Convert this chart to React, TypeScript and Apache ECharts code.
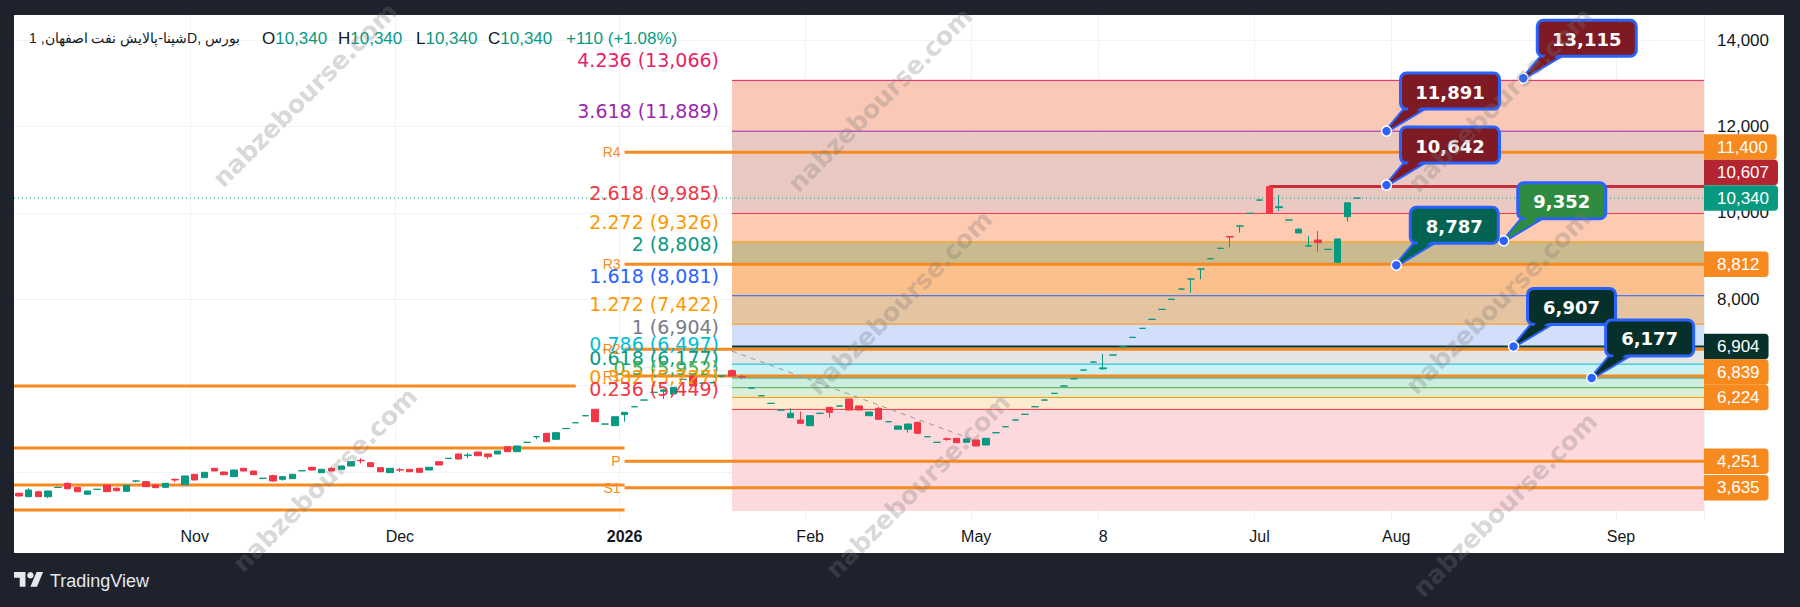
import React, { useEffect, useRef } from 'react';
import * as echarts from 'echarts';

// ---------------- DATA ----------------
const opens = [3507,3429,3544,3429,3640,3738,3646,3484,3598,3699,3623,3553,3790,3776,3699,3646,3830,3706,3947,3869,4086,4000,3892,4086,4023,3853,3915,3831,3845,4028,4109,3984,4086,4062,4139,4270,4215,4100,3984,4050,4062,4086,4046,4238,4315,4417,4380,4463,4417,4417,4586,4470,4686,4816,4896,4757,5004,5139,5302,5452,5109,5072,5327,5510,5665,5843,5870,5806,6144,6224,6058,6065,6222,6346,6210,5942,5764,5588,5433,5257,5204,5072,5357,5497,5526,5690,5528,5304,5474,5163,4990,4990,5150,4816,4686,4770,4780,4688,4741,4625,4908,5047,5202,5334,5510,5665,5820,5989,6158,6359,6544,6390,6707,6898,7116,7324,7533,7764,7996,8234,8466,8697,8936,9176,9450,9693,9986,10294,10605,10120,9831,9533,9232,9370,9153,8853,9910,10340];
const closes = [3445,3583,3429,3560,3646,3613,3544,3560,3600,3544,3567,3692,3792,3660,3637,3738,3815,3908,3815,3993,4023,3938,4046,4023,3938,3855,3792,3892,3947,4030,4046,4062,4023,4139,4238,4261,4123,4007,4086,4046,4007,3993,4109,4162,4317,4301,4394,4377,4354,4486,4470,4602,4688,4818,4701,4910,5006,5141,5304,5165,5111,5280,5382,5512,5667,5845,5900,5961,6146,5991,6060,6067,6224,6222,6199,5944,5766,5590,5435,5359,5127,5304,5359,5382,5528,5435,5435,5389,5220,5165,5065,5111,4896,4818,4688,4757,4678,4764,4602,4780,4910,5049,5204,5336,5512,5667,5822,5991,6160,6361,6546,6410,6709,6900,7118,7326,7535,7766,7998,8236,8468,8699,8938,9178,9440,9695,9988,10296,9988,10140,9833,9620,9234,9310,9155,9394,10230,10340];
const lows = [3430,3414,3425,3398,3630,3600,3530,3478,3590,3540,3550,3548,3760,3655,3630,3640,3760,3700,3810,3865,4018,3932,3888,4018,3932,3840,3770,3800,3840,4025,4040,3980,4015,4058,4135,4200,4118,4002,3980,4000,4002,3988,4042,4158,4312,4296,4320,4372,4300,4412,4465,4466,4682,4760,4696,4752,5000,5136,5298,5160,5105,5068,5165,5506,5662,5840,5690,5800,6140,5986,6054,6060,6180,6218,6150,5938,5760,5584,5430,5250,5120,5068,5354,5257,5522,5430,5430,5300,5215,5160,4986,4910,4891,4812,4682,4720,4673,4684,4597,4620,4904,5043,5198,5330,5506,5661,5816,5985,6154,6355,6540,6361,6703,6894,7112,7320,7529,7760,7992,8230,8150,8460,8932,9172,9200,9540,9982,10290,9984,10040,9828,9528,9228,9100,9150,8848,9795,10340];
const highs = [3520,3623,3550,3565,3660,3760,3655,3566,3606,3705,3650,3698,3805,3782,3705,3742,3850,3915,3952,3998,4092,4005,4050,4095,4028,3858,3940,3896,3950,4034,4114,4066,4120,4143,4243,4320,4220,4105,4090,4090,4066,4090,4113,4242,4320,4421,4440,4468,4422,4490,4590,4606,4692,4822,4900,4914,5010,5145,5308,5456,5115,5284,5386,5516,5671,5849,5920,5965,6150,6228,6064,6071,6226,6380,6250,5948,5770,5594,5439,5474,5397,5308,5363,5501,5532,5694,5532,5393,5510,5169,5069,5115,5154,4822,4692,4800,4784,4768,4745,4784,4914,5053,5208,5340,5516,5671,5826,5995,6164,6365,6550,6732,6713,6904,7122,7330,7539,7770,8002,8240,8470,8702,8942,9182,9452,9698,9992,10300,10607,10412,9837,9650,9460,9580,9159,9398,10235,10340];

const totalSlots = 173;
const timeLabelIndex = [18, 39, 62, 81, 98, 111, 127, 141, 164];
const timeLabelText = ['Nov', 'Dec', '2026', 'Feb', 'May', '8', 'Jul', 'Aug', 'Sep'];
const yTickLabels = [8000, 10000, 12000, 14000];
const yMin = 2889;
const yMax = 14579;

const fibRatios = [4.236, 3.618, 2.618, 2.272, 2, 1.618, 1.272, 1, 0.786, 0.618, 0.5, 0.382, 0.236];
const fibPrices = [13066, 11889, 9985, 9326, 8808, 8081, 7422, 6904, 6497, 6177, 5952, 5727, 5449];
const fibLineColors = ['#e91e63', '#9c27b0', '#f23645', '#ff9800', '#089981', '#2962ff', '#ff9800', '#787b86', '#00bcd4', '#089981', '#4caf50', '#ff9800', '#f23645'];
const fibZoneColors = ['#f9c8b7', '#ebc9c3', '#fdcab2', '#c9ba8f', '#fcc08d', '#e4c4a1', '#d2dffb', '#e4e4e4', '#caf2f5', '#cdeedf', '#daeed7', '#fdebd0', '#fdd9dd'];
const fibBottom = 3096;
const fibStart = 73;

const pivotNames = ['R4', 'R3', 'R2', 'R1', 'P', 'S1'];
const pivotValues = [11400, 8812, 6839, 6224, 4251, 3635];
const pivotStart = 62;
const prevPivotValues = [5991, 4555, 3699, 3120];
const prevPivotEnd = [57, 62, 62, 62];

const lastPrice = 10340;
const resistanceValue = 10607;
const resistanceStart = 128;
const supportValue = 6904;
const trendIndex = [73, 98];
const trendValues = [6800, 4720];

const calloutValues = [13115, 11891, 10642, 9352, 8787, 6907, 6177];
const calloutIndex = [154, 140, 140, 152, 141, 153, 161];
const calloutColors = ['#7d1a24', '#7d1a24', '#7d1a24', '#2e8b3f', '#046352', '#07302a', '#07302a'];

const badgeValues = [11400, 10607, 10340, 8812, 6904, 6839, 6224, 4251, 3635];
const badgeColors = ['#f68a1e', '#b22531', '#089981', '#f68a1e', '#07302a', '#f68a1e', '#f68a1e', '#f68a1e', '#f68a1e'];
const badgePinned = [false, false, true, false, true, false, false, false, false];

// ---------------- HELPERS ----------------
const fmt = (n: number) => n.toLocaleString('en-US');
const UP = '#089981';
const DOWN = '#f23645';
const ORANGE = '#f68a1e';
const AXIS_FONT = '"Liberation Sans", Arial, sans-serif';
const FIB_FONT = '"DejaVu Sans", Verdana, sans-serif';

const hLine = (name: string, data: any[], style: (i: number) => any, z: number) => ({
  type: 'custom',
  name,
  z,
  silent: true,
  encode: { x: 0, y: 1 },
  data,
  renderItem: (params: any, api: any) => {
    const cs = params.coordSys;
    const s = api.value(0);
    const v = api.value(1);
    const e = api.value(2);
    const y = api.coord([0, v])[1];
    const x1 = s < 0 ? cs.x : api.coord([s, v])[0];
    const x2 = e < 0 ? cs.x + cs.width : api.coord([e, v])[0];
    return { type: 'line', shape: { x1, y1: y, x2, y2: y }, style: style(params.dataIndex) };
  },
});

export default function App() {
  const ref = useRef<HTMLDivElement>(null);

  useEffect(() => {
    if (!ref.current) return;
    echarts.graphic.registerShape(
      'tvlogo',
      echarts.graphic.extendPath('M14 22H7V11H0V4h14v18zM28 22h-8l7.5-18h8L28 22z', {}) as any
    );
    const chart = echarts.init(ref.current, undefined, { renderer: 'svg' });

    const categories = Array.from({ length: totalSlots }, (_, i) => String(i));
    const labelMap: Record<number, string> = {};
    timeLabelIndex.forEach((k, i) => (labelMap[k] = timeLabelText[i]));

    const candleData = opens.map((o, i) => [o, closes[i], lows[i], highs[i]]);
    const last = opens.length - 1;
    const change = closes[last] - closes[last - 1];
    const changePct = (change / closes[last - 1]) * 100;

    const zoneData = fibPrices.map((p, i) => [fibStart, p, i < fibPrices.length - 1 ? fibPrices[i + 1] : fibBottom, i]);

    const option: any = {
      animation: false,
      backgroundColor: '#1e222d',
      grid: { left: 14, right: 96, top: 15, bottom: 87, containLabel: false },
      xAxis: {
        type: 'category',
        data: categories,
        boundaryGap: true,
        axisLine: { show: false },
        axisTick: { show: false },
        axisLabel: {
          interval: (i: number) => labelMap[i] !== undefined,
          formatter: (_v: string, i: number) => (labelMap[i] === '2026' ? '{b|2026}' : labelMap[i] || ''),
          color: '#131722',
          fontSize: 16,
          fontFamily: AXIS_FONT,
          margin: 8,
          rich: { b: { fontWeight: 'bold', fontSize: 16, color: '#131722', fontFamily: AXIS_FONT } },
        },
        splitLine: {
          show: true,
          interval: (i: number) => labelMap[i] !== undefined,
          lineStyle: { color: '#f0f3fa', width: 1 },
        },
      },
      yAxis: {
        type: 'value',
        position: 'right',
        min: yMin,
        max: yMax,
        axisLine: { show: false },
        axisTick: { show: false },
        axisLabel: {
          customValues: yTickLabels,
          formatter: (v: number) => fmt(v),
          color: '#131722',
          fontSize: 17,
          fontFamily: AXIS_FONT,
          margin: 13,
        },
        splitLine: { show: true, showMinLine: false, showMaxLine: false, lineStyle: { color: '#f0f3fa' } },
      },
      series: [
        {
          type: 'custom',
          name: 'fibZones',
          z: 1,
          silent: true,
          encode: { x: 0, y: 1 },
          data: zoneData,
          renderItem: (params: any, api: any) => {
            const cs = params.coordSys;
            const a = api.coord([api.value(0), api.value(1)]);
            const b = api.coord([api.value(0), api.value(2)]);
            return {
              type: 'rect',
              shape: { x: a[0], y: a[1], width: cs.x + cs.width - a[0], height: b[1] - a[1] },
              style: { fill: fibZoneColors[api.value(3)] },
            };
          },
        },
        hLine('fibLines', fibPrices.map((p) => [fibStart, p, -1]), (i) => ({ stroke: fibLineColors[i], lineWidth: 1 }), 2),
        hLine('prevPivots', prevPivotValues.map((p, i) => [-1, p, prevPivotEnd[i]]), () => ({ stroke: ORANGE, lineWidth: 3 }), 3),
        hLine('pivots', pivotValues.map((p) => [pivotStart, p, -1]), () => ({ stroke: ORANGE, lineWidth: 3 }), 3),
        hLine('support', [[fibStart, supportValue, -1]], () => ({ stroke: '#0d3530', lineWidth: 2 }), 3),
        hLine('lastPrice', [[-1, lastPrice, -1]], () => ({ stroke: UP, lineWidth: 1, lineDash: [1, 3] }), 4),
        hLine('resistance', [[resistanceStart, resistanceValue, -1]], () => ({ stroke: '#c62f3a', lineWidth: 3 }), 4),
        {
          type: 'line',
          name: 'trend',
          z: 4,
          silent: true,
          symbol: 'none',
          data: trendIndex.map((k, i) => [k, trendValues[i]]),
          lineStyle: { color: '#9598a1', width: 1, type: [5, 5] },
        },
        {
          type: 'candlestick',
          name: 'price',
          z: 5,
          barWidth: 7,
          data: candleData,
          itemStyle: { color: UP, color0: DOWN, borderColor: UP, borderColor0: DOWN, borderWidth: 1 },
        },
        {
          type: 'custom',
          name: 'fibLabels',
          z: 6,
          silent: true,
          encode: { x: 0, y: 1 },
          data: fibPrices.map((p) => [fibStart, p]),
          renderItem: (params: any, api: any) => {
            const i = params.dataIndex;
            const pt = api.coord([api.value(0), api.value(1)]);
            return {
              type: 'text',
              x: pt[0] - 13,
              y: pt[1] - 20,
              style: {
                text: `${fibRatios[i]} (${fmt(fibPrices[i])})`,
                fill: fibLineColors[i],
                fontSize: 19,
                fontFamily: FIB_FONT,
                align: 'right',
                verticalAlign: 'middle',
              },
            };
          },
        },
        {
          type: 'custom',
          name: 'pivotLabels',
          z: 6,
          silent: true,
          encode: { x: 0, y: 1 },
          data: pivotValues.map((p) => [pivotStart, p]),
          renderItem: (params: any, api: any) => {
            const pt = api.coord([api.value(0), api.value(1)]);
            return {
              type: 'text',
              x: pt[0] - 4,
              y: pt[1],
              style: {
                text: pivotNames[params.dataIndex],
                fill: ORANGE,
                fontSize: 14,
                fontFamily: AXIS_FONT,
                align: 'right',
                verticalAlign: 'middle',
              },
            };
          },
        },
        {
          type: 'custom',
          name: 'callouts',
          z: 8,
          silent: true,
          encode: { x: 0, y: 1 },
          data: calloutValues.map((v, i) => [calloutIndex[i], v]),
          renderItem: (params: any, api: any) => {
            const i = params.dataIndex;
            const [ax, ay] = api.coord([api.value(0), api.value(1)]);
            const txt = fmt(calloutValues[i]);
            const w = 11 * txt.length + 33;
            const h = 36;
            const l = ax + 14;
            const t = ay - 58;
            const b = t + h;
            const color = calloutColors[i];
            const mx = l + 16;
            const cx = mx + (ax - mx) * 0.45;
            const cy = b + (ay - b) * 0.45;
            return {
              type: 'group',
              children: [
                { type: 'polyline', shape: { points: [[l + 6, b - 2], [ax, ay], [l + 26, b - 2]] }, style: { stroke: '#2962ff', lineWidth: 4, fill: null, lineJoin: 'round' } },
                { type: 'polygon', shape: { points: [[l + 6, b - 2], [ax, ay], [l + 26, b - 2]] }, style: { fill: color } },
                { type: 'rect', shape: { x: l, y: t, width: w, height: h, r: 6 }, style: { fill: color, stroke: '#2962ff', lineWidth: 3 } },
                { type: 'polygon', shape: { points: [[l + 9, b - 3], [l + 23, b - 3], [cx, cy]] }, style: { fill: color } },
                {
                  type: 'text',
                  x: l + w / 2,
                  y: t + h / 2 + 1,
                  style: { text: txt, fill: '#ffffff', fontSize: 18, fontWeight: 'bold', fontFamily: FIB_FONT, align: 'center', verticalAlign: 'middle' },
                },
                { type: 'circle', shape: { cx: ax, cy: ay, r: 5 }, style: { fill: '#2962ff', stroke: '#ffffff', lineWidth: 1.5 } },
              ],
            };
          },
        },
      ],
    };

    chart.setOption(option);

    // price-axis badges, stacked like the reference
    const ys = badgeValues.map((v) => chart.convertToPixel({ yAxisIndex: 0 } as any, v) as number);
    const order = ys.map((_, i) => i).sort((a, b) => ys[a] - ys[b]);
    const pos = ys.slice();
    const H = 25.5;
    for (let k = 1; k < order.length; k++) {
      const i = order[k];
      const p = order[k - 1];
      if (!badgePinned[i] && pos[i] < pos[p] + H) pos[i] = pos[p] + H;
    }
    for (let k = order.length - 2; k >= 0; k--) {
      const i = order[k];
      const n = order[k + 1];
      if (!badgePinned[i] && pos[i] > pos[n] - H) pos[i] = pos[n] - H;
    }
    const badges = badgeValues.map((v, i) => ({
      type: 'text',
      x: 1704,
      y: pos[i],
      z: 50,
      style: {
        text: fmt(v),
        fill: '#ffffff',
        fontSize: 17,
        fontFamily: AXIS_FONT,
        backgroundColor: badgeColors[i],
        padding: [3, 9, 3, 13],
        lineHeight: 19.5,
        borderRadius: [0, 4, 4, 0],
        align: 'left',
        verticalAlign: 'middle',
      },
    }));

    const watermarkCenters = [
      [305, 95], [325, 480], [880, 100], [900, 303], [918, 486], [1500, 100], [1498, 302], [1505, 505],
    ];
    const watermarks = watermarkCenters.map(([x, y]) => ({
      type: 'text',
      x,
      y,
      rotation: Math.PI / 4,
      z: 90,
      silent: true,
      style: {
        text: 'nabzebourse.com',
        fill: 'rgba(120,120,120,0.3)',
        fontSize: 25,
        fontWeight: 'bold',
        fontFamily: FIB_FONT,
        align: 'center',
        verticalAlign: 'middle',
      },
    }));

    const headerGreen = (label: string, value: string, x: number) => ({
      type: 'text',
      x,
      y: 38,
      z: 60,
      style: {
        text: `{k|${label}}{g|${value}}`,
        verticalAlign: 'middle',
        rich: {
          k: { fill: '#131722', color: '#131722', fontSize: 17, fontFamily: AXIS_FONT },
          g: { fill: UP, color: UP, fontSize: 17, fontFamily: AXIS_FONT },
        },
      },
    });

    chart.setOption({
      graphic: [
        { type: 'rect', z: -10, silent: true, shape: { x: 14, y: 15, width: 1770, height: 538 }, style: { fill: '#ffffff' } },
        ...badges,
        {
          type: 'text',
          x: 29,
          y: 38,
          z: 60,
          style: { text: 'شپنا-پالایش نفت اصفهان, 1D, بورس', fill: '#131722', fontSize: 14, fontFamily: AXIS_FONT, verticalAlign: 'middle' },
        },
        headerGreen('O', fmt(opens[last]), 262),
        headerGreen('H', fmt(highs[last]), 338),
        headerGreen('L', fmt(lows[last]), 416),
        headerGreen('C', fmt(closes[last]), 488),
        {
          type: 'text',
          x: 566,
          y: 38,
          z: 60,
          style: {
            text: `${change >= 0 ? '+' : ''}${fmt(change)} (${change >= 0 ? '+' : ''}${changePct.toFixed(2)}%)`,
            fill: UP,
            fontSize: 17,
            fontFamily: AXIS_FONT,
            verticalAlign: 'middle',
          },
        },
        { type: 'tvlogo', x: 14, y: 568.7, scaleX: 0.82, scaleY: 0.82, z: 60, style: { fill: '#e6e8ee' } },
        { type: 'circle', z: 60, shape: { cx: 14 + 20 * 0.82, cy: 568.7 + 8 * 0.82, r: 4 * 0.82 }, style: { fill: '#e6e8ee' } },
        {
          type: 'text',
          x: 50,
          y: 581,
          z: 60,
          style: { text: 'TradingView', fill: '#e6e8ee', fontSize: 18, fontFamily: AXIS_FONT, verticalAlign: 'middle' },
        },
        ...watermarks,
      ],
    });

    return () => chart.dispose();
  }, []);

  return <div ref={ref} style={{ position: 'fixed', left: 0, top: 0, width: 1800, height: 607 }} />;
}
